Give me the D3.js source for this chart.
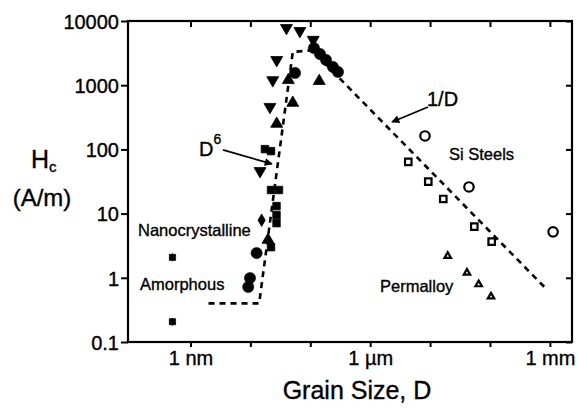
<!DOCTYPE html>
<html><head><meta charset="utf-8">
<script src="https://cdn.jsdelivr.net/npm/d3@7"></script>
<style>body{margin:0;background:#fff}svg{display:block}text{font-family:"Liberation Sans",Arial,Helvetica,sans-serif;fill:#000;stroke:#000;stroke-width:0.35px}</style>
</head><body><svg id="c" width="577" height="410"></svg>
<script>
// Grain size in nm, coercivity Hc in A/m
const xTicks = [1, 10, 100, 1000, 1e4, 1e5, 1e6];
const xTickLabels = {1: "1 nm", 1000: "1 \u00b5m", 1000000: "1 mm"};
const yTicks = [0.1, 1, 10, 100, 1000, 10000];
const yTickLabels = ["0.1", "1", "10", "100", "1000", "10000"];

const amorphousPts = [[0.5, 2.08], [0.5, 0.207]];
const downTriPts = [[40, 7800], [67, 7000], [112, 5100], [27.5, 2470], [23.6, 1200], [21.2, 460], [14.5, 46]];
const upTriPts = [[43, 1200], [141, 1160], [51, 530], [27.5, 250], [19.7, 3.9]];
const filledCirclePts = [[55.6, 1550], [115, 3790], [145, 3060], [183, 2470], [239, 1920], [290, 1610], [12.7, 2.43], [9.85, 0.99], [9.2, 0.72]];
const filledSquarePts = [[17.5, 101], [22.1, 94], [22.1, 23.3], [30, 23.3], [27.3, 13.1], [27.3, 9.5], [27.3, 7.1], [22.1, 3.0]];
const diamondPts = [[15.4, 7.9]];
const siSteelCircles = [[8220, 162], [44600, 26], [1.13e6, 5.2]];
const siSteelSquares = [[4325, 64], [9330, 31.4], [16600, 16.9], [54700, 6.25], [106700, 3.65]];
const permalloyPts = [[19700, 2.19], [41300, 1.2], [64700, 0.79], [104000, 0.51]];
const guideLine = [[2, 0.4], [14, 0.4], [51, 3300], [107, 3500], [9e5, 0.65]];
const arrowD6 = [[3.49, 98], [22.9, 59.3]];
const arrowInvD = [[9230, 457], [2312, 267]];

const svg = d3.select("#c");
const L = 128, R = 572, T = 21, B = 342;
const x = d3.scaleLog().domain([0.0905, 2.34e6]).range([L, R]);
const y = d3.scaleLog().domain([0.1, 10000]).range([B, T]);

// axes
const gx = svg.append("g").attr("transform", `translate(0,${B})`)
  .call(d3.axisBottom(x).tickValues(xTicks).tickSize(5).tickSizeOuter(0).tickFormat(d => xTickLabels[d] || ""));
const gxt = svg.append("g").attr("transform", `translate(0,${T})`)
  .call(d3.axisBottom(x).tickValues(xTicks).tickSize(6).tickSizeOuter(0).tickFormat(""));
const gy = svg.append("g").attr("transform", `translate(${L},0)`)
  .call(d3.axisLeft(y).tickValues(yTicks).tickSize(7).tickSizeOuter(0).tickFormat((d, i) => yTickLabels[i]));
const gyr = svg.append("g").attr("transform", `translate(${R},0)`)
  .call(d3.axisLeft(y).tickValues(yTicks).tickSize(6).tickSizeOuter(0).tickFormat(""));
[gx, gxt, gy, gyr].forEach(g => {
  g.select(".domain").remove();
  g.selectAll(".tick line").attr("stroke", "#000").attr("stroke-width", 2);
});
gx.selectAll(".tick text").attr("font-size", 20).attr("dy", "0.92em").attr("y", 5);
gy.selectAll(".tick text").attr("font-size", 20).attr("x", -9).attr("dy", "0.36em");
svg.append("rect").attr("x", L).attr("y", T).attr("width", R - L).attr("height", B - T)
  .attr("fill", "none").attr("stroke", "#000").attr("stroke-width", 2.2);

// guide line
svg.append("path").datum(guideLine)
  .attr("d", d3.line().x(d => x(d[0])).y(d => y(d[1])))
  .attr("fill", "none").attr("stroke", "#000").attr("stroke-width", 2.6).attr("stroke-dasharray", "6,5");

function sym(data, type, size, rot, filled, sw) {
  svg.append("g").selectAll("path").data(data).join("path")
    .attr("transform", d => `translate(${x(d[0])},${y(d[1])}) rotate(${rot})`)
    .attr("d", d3.symbol().type(type).size(size))
    .attr("fill", filled ? "#000" : "none")
    .attr("stroke", "#000").attr("stroke-width", sw);
}
sym(filledSquarePts, d3.symbolSquare, 56, 0, true, 0.8);
sym(diamondPts, d3.symbolDiamond, 45, 0, true, 0.8);
sym(downTriPts, d3.symbolTriangle, 62, 180, true, 0.8);
sym(upTriPts, d3.symbolTriangle, 62, 0, true, 0.8);
sym(filledCirclePts, d3.symbolCircle, 100, 0, true, 0.5);
sym(amorphousPts, d3.symbolSquare, 40, 0, true, 0.5);
sym(amorphousPts, d3.symbolAsterisk, 40, 0, false, 1.2);
sym(siSteelCircles, d3.symbolCircle, 70, 0, false, 2.2);
sym(siSteelSquares, d3.symbolSquare, 42, 0, false, 2.2);
sym(permalloyPts, d3.symbolTriangle, 18, 0, false, 2.2);

// arrows
svg.append("defs").append("marker").attr("id", "ah").attr("viewBox", "0 0 10 10")
  .attr("refX", 9).attr("refY", 5).attr("markerWidth", 10).attr("markerHeight", 8)
  .attr("markerUnits", "userSpaceOnUse").attr("orient", "auto")
  .append("path").attr("d", "M0,0L10,5L0,10z").attr("fill", "#000");
[arrowD6, arrowInvD].forEach(a => {
  svg.append("line").attr("x1", x(a[0][0])).attr("y1", y(a[0][1]))
    .attr("x2", x(a[1][0])).attr("y2", y(a[1][1]))
    .attr("stroke", "#000").attr("stroke-width", 1.8).attr("marker-end", "url(#ah)");
});

// labels
function txt(px, py, s, size, anchor) {
  return svg.append("text").attr("x", px).attr("y", py).attr("font-size", size)
    .attr("text-anchor", anchor || "start").text(s);
}
const d6 = svg.append("text").attr("x", 199).attr("y", 156).attr("font-size", 20);
d6.append("tspan").text("D");
d6.append("tspan").attr("font-size", 14).attr("dy", -12).text("6");
txt(427, 106, "1/D", 20);
txt(449, 160, "Si Steels", 16.5);
txt(380, 292, "Permalloy", 16.5);
txt(138, 236, "Nanocrystalline", 16.5);
txt(140, 290, "Amorphous", 16.5);
txt(357, 399, "Grain Size, D", 25, "middle");
const hc = svg.append("text").attr("x", 31).attr("y", 168).attr("font-size", 25);
hc.append("tspan").text("H");
hc.append("tspan").attr("font-size", 15).attr("dy", 4).text("c");
txt(42, 206, "(A/m)", 24, "middle");
</script></body></html>
